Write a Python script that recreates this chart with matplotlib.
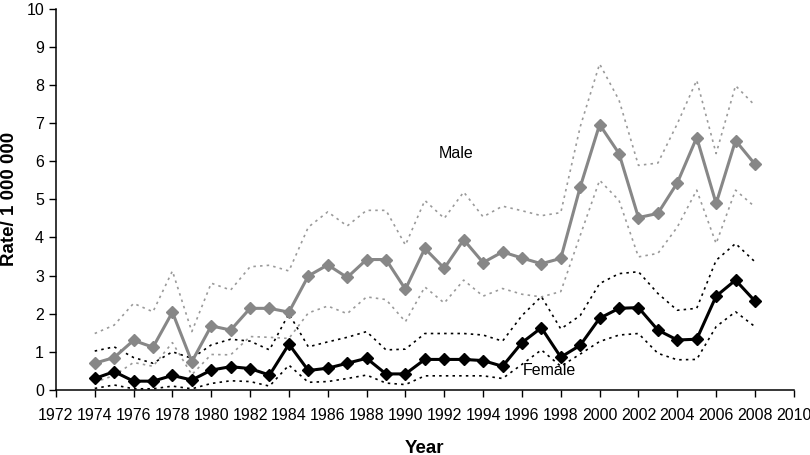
import matplotlib
matplotlib.use("Agg")
import matplotlib.pyplot as plt

plt.rcParams['font.family'] = ['Liberation Sans', 'DejaVu Sans']

years = list(range(1974, 2009))

male = [0.70, 0.85, 1.30, 1.12, 2.04, 0.74, 1.68, 1.57, 2.14, 2.14,
        2.04, 2.99, 3.28, 2.95, 3.42, 3.42, 2.64, 3.71, 3.19, 3.94,
        3.34, 3.62, 3.46, 3.31, 3.45, 5.32, 6.96, 6.20, 4.52, 4.63,
        5.43, 6.62, 4.89, 6.54, 5.92]
male_hi = [1.48, 1.70, 2.27, 2.05, 3.12, 1.53, 2.80, 2.62, 3.23, 3.27,
           3.12, 4.27, 4.67, 4.30, 4.71, 4.71, 3.80, 4.97, 4.50, 5.19,
           4.54, 4.82, 4.70, 4.57, 4.65, 6.90, 8.55, 7.60, 5.89, 5.95,
           6.98, 8.12, 6.20, 7.98, 7.46]
male_lo = [0.20, 0.38, 0.72, 0.62, 1.24, 0.40, 0.93, 0.92, 1.40, 1.38,
           1.35, 2.02, 2.20, 2.00, 2.44, 2.37, 1.79, 2.70, 2.28, 2.88,
           2.46, 2.66, 2.51, 2.44, 2.58, 4.05, 5.50, 4.97, 3.49, 3.58,
           4.27, 5.24, 3.84, 5.24, 4.80]

female = [0.30, 0.48, 0.23, 0.23, 0.38, 0.26, 0.52, 0.61, 0.56, 0.39,
          1.20, 0.51, 0.57, 0.70, 0.83, 0.42, 0.42, 0.80, 0.80, 0.80,
          0.77, 0.62, 1.24, 1.63, 0.86, 1.17, 1.88, 2.14, 2.16, 1.57,
          1.31, 1.33, 2.46, 2.88, 2.33]
female_hi = [1.02, 1.13, 0.85, 0.70, 1.00, 0.83, 1.18, 1.33, 1.28, 1.05,
             2.00, 1.13, 1.26, 1.38, 1.53, 1.05, 1.07, 1.48, 1.48, 1.48,
             1.44, 1.28, 1.95, 2.45, 1.60, 1.95, 2.79, 3.05, 3.10, 2.53,
             2.09, 2.14, 3.40, 3.84, 3.36]
female_lo = [0.04, 0.13, 0.03, 0.03, 0.10, 0.03, 0.17, 0.24, 0.22, 0.10,
             0.65, 0.20, 0.22, 0.30, 0.39, 0.18, 0.14, 0.37, 0.37, 0.37,
             0.37, 0.30, 0.67, 1.05, 0.62, 0.94, 1.27, 1.44, 1.48, 0.96,
             0.79, 0.80, 1.66, 2.05, 1.66]

xticks = list(range(1972, 2011, 2))
yticks = list(range(0, 11))

GRAY = '#878787'
GRAY_CI = '#9a9a9a'

fig = plt.figure(figsize=(8.1, 4.55), dpi=100)
ax = fig.add_axes([0.069, 0.143, 0.911, 0.838])

# confidence limits
ci_style = dict(linewidth=1.2, dashes=(1.5, 2.5))
ax.plot(years, male_hi, color=GRAY_CI, **ci_style)
ax.plot(years, male_lo, color=GRAY_CI, **ci_style)
ax.plot(years, female_hi, color='black', **ci_style)
ax.plot(years, female_lo, color='black', **ci_style)

# rates
ax.plot(years, male, color=GRAY, linewidth=2.2, marker='D', markersize=6,
        markeredgecolor=GRAY, markerfacecolor=GRAY)
ax.plot(years, female, color='black', linewidth=2.2, marker='D', markersize=6,
        markeredgecolor='black', markerfacecolor='black')

ax.text(1992.6, 6.2, 'Male', fontsize=11.5, ha='center', va='center')
ax.text(1997.4, 0.52, 'Female', fontsize=11.5, ha='center', va='center')

ax.set_xlim(1972, 2010)
ax.set_ylim(0, 10)
ax.set_xticks(xticks)
ax.set_yticks(yticks)
ax.tick_params(direction='out', length=5, width=1, labelsize=11.5, color='black')
ax.tick_params(axis='x', pad=8)

for side in ['top', 'right']:
    ax.spines[side].set_visible(False)
for side in ['left', 'bottom']:
    ax.spines[side].set_linewidth(1.1)

ax.set_xlabel('Year', fontsize=13.5, fontweight='bold')
ax.set_ylabel('Rate/ 1 000 000', fontsize=13.5, fontweight='bold')
ax.xaxis.set_label_coords(0.5, -0.13)
ax.yaxis.set_label_coords(-0.052, 0.5)

fig.savefig('out.png', dpi=100)
